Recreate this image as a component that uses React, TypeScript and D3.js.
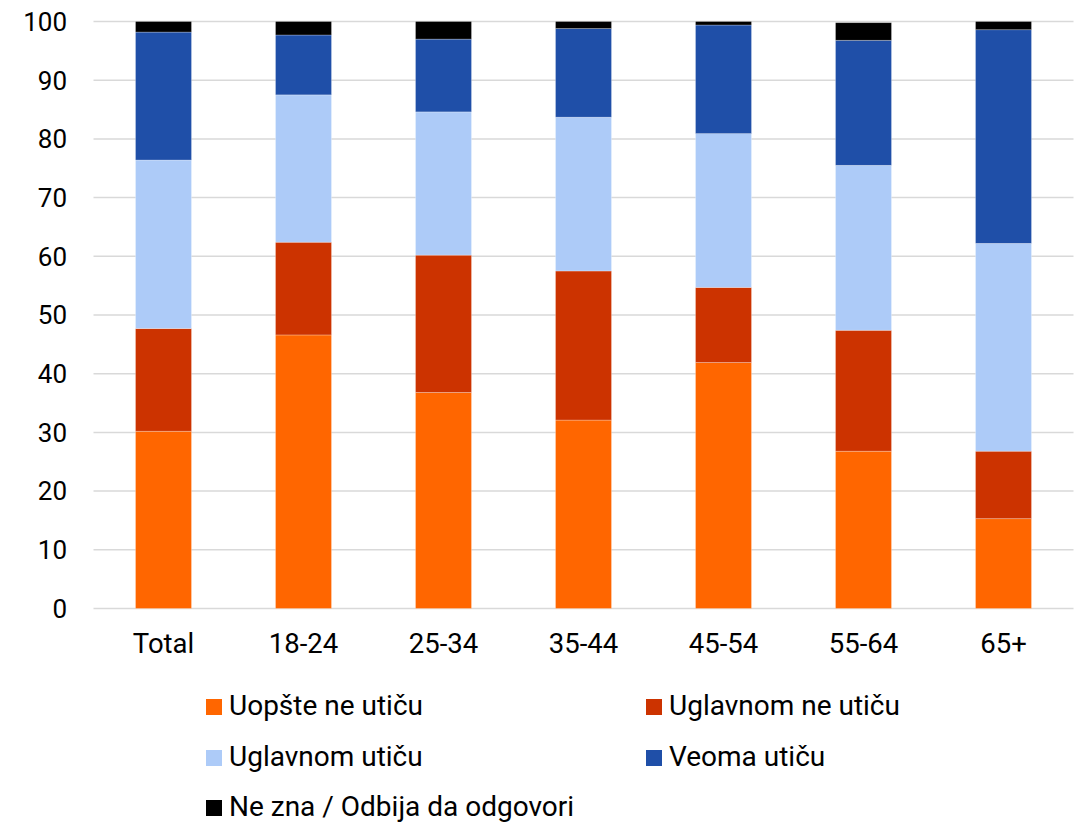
import React from "react";
import * as d3 from "d3";

const categories = ["Total", "18-24", "25-34", "35-44", "45-54", "55-64", "65+"];
const seriesNames = ["Uopšte ne utiču", "Uglavnom ne utiču", "Uglavnom utiču", "Veoma utiču", "Ne zna / Odbija da odgovori"];
const uopsteNe = [30.2, 46.6, 36.8, 32.1, 41.9, 26.8, 15.3];
const uglavnomNe = [17.5, 15.8, 23.4, 25.4, 12.8, 20.6, 11.5];
const uglavnom = [28.7, 25.1, 24.4, 26.2, 26.2, 28.1, 35.4];
const veoma = [21.8, 10.2, 12.4, 15.1, 18.5, 21.3, 36.4];
const neZna = [1.8, 2.3, 3.0, 1.2, 0.6, 3.0, 1.4];
const yTicks = [0, 10, 20, 30, 40, 50, 60, 70, 80, 90, 100];
const colors = ["#FF6600", "#CC3300", "#ADCBF8", "#1F4FA8", "#000000"];

export default function App() {
  const W = 1081, H = 823;
  const left = 93.5, right = 1073.5, top = 21.5, bottom = 608.5;
  const x = d3.scaleBand().domain(categories).range([left, right]).paddingInner(0.6).paddingOuter(0.3);
  const y = d3.scaleLinear().domain([0, 100]).range([bottom, top]);
  const values = [uopsteNe, uglavnomNe, uglavnom, veoma, neZna];
  const rows = categories.map((c, i) => {
    const r: any = { cat: c };
    seriesNames.forEach((s, k) => (r[s] = values[k][i]));
    return r;
  });
  const stacked = d3.stack().keys(seriesNames)(rows);
  const font = "Roboto, 'Noto Sans', sans-serif";
  const legend = [
    { i: 0, x: 206, y: 707 },
    { i: 1, x: 646, y: 707 },
    { i: 2, x: 206, y: 758 },
    { i: 3, x: 646, y: 758 },
    { i: 4, x: 206, y: 808 },
  ];
  return (
    <svg width={W} height={H} style={{ position: "absolute", left: 0, top: 0, background: "#fff" }}>
      {yTicks.map((t) => (
        <g key={t}>
          <line x1={left} x2={right} y1={y(t)} y2={y(t)} stroke="#d9d9d9" strokeWidth={1.5} />
          <text x={67} y={y(t)} dy="0.36em" textAnchor="end" fontFamily={font} fontSize={26} fill="#000">{t}</text>
        </g>
      ))}
      {stacked.map((s, k) => (
        <g key={s.key} fill={colors[k]}>
          {s.map((d, i) => (
            <rect key={i} x={x(categories[i])} width={x.bandwidth()} y={y(d[1])} height={y(d[0]) - y(d[1])}
              stroke="rgba(255,255,255,0.35)" strokeWidth={0.75} />
          ))}
        </g>
      ))}
      {categories.map((c) => (
        <text key={c} x={(x(c) as number) + x.bandwidth() / 2} y={653} textAnchor="middle" fontFamily={font} fontSize={27.5} fill="#000">{c}</text>
      ))}
      {legend.map((l) => (
        <g key={l.i}>
          <rect x={l.x} y={l.y - 8} width={16} height={16} fill={colors[l.i]} />
          <text x={l.x + 23} y={l.y + 8} fontFamily={font} fontSize={28} fill="#000">{seriesNames[l.i]}</text>
        </g>
      ))}
    </svg>
  );
}
